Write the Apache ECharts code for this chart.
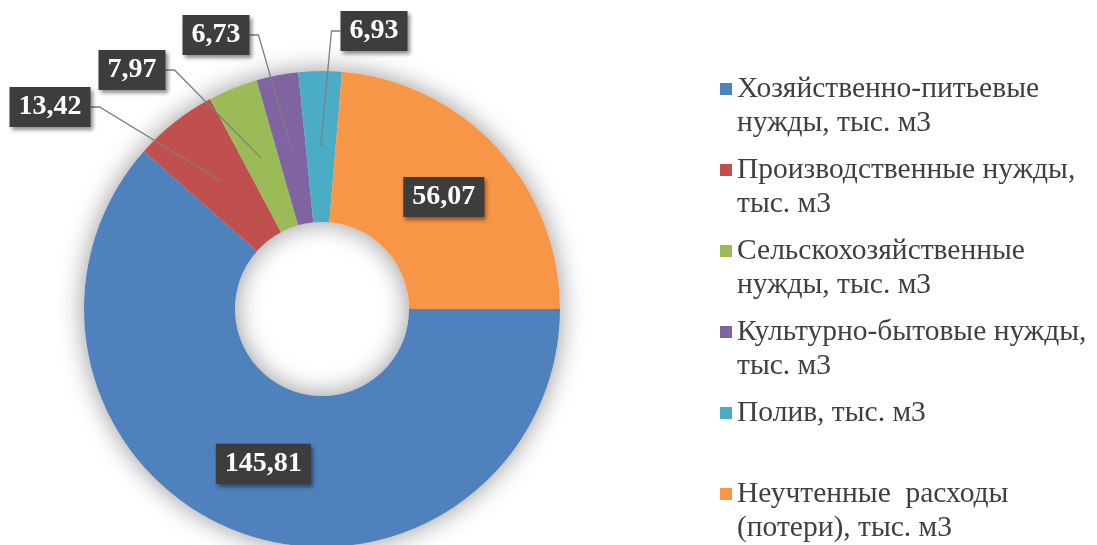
<!DOCTYPE html>
<html><head><meta charset="utf-8">
<script src="https://cdn.jsdelivr.net/npm/echarts@6/dist/echarts.min.js"></script>
<style>html,body{margin:0;padding:0;background:#fff;}#c{width:1097px;height:545px;}</style>
</head><body><div id="c"></div>
<script>
const categories = [
  'Хозяйственно-питьевые нужды, тыс. м3',
  'Производственные нужды, тыс. м3',
  'Сельскохозяйственные нужды, тыс. м3',
  'Культурно-бытовые нужды, тыс. м3',
  'Полив, тыс. м3',
  'Неучтенные расходы (потери), тыс. м3'
];
const values = [145.81, 13.42, 7.97, 6.73, 6.93, 56.07];
const legendLines = [
  ['Хозяйственно-питьевые', 'нужды, тыс. м3'],
  ['Производственные нужды,', 'тыс. м3'],
  ['Сельскохозяйственные', 'нужды, тыс. м3'],
  ['Культурно-бытовые нужды,', 'тыс. м3'],
  ['Полив, тыс. м3', ' '],
  ['Неучтенные  расходы', '(потери), тыс. м3']
];
const colors = ['#4F81BD', '#C0504D', '#9BBB59', '#8064A2', '#4BACC6', '#F79646'];
const insideLabels = [0, 5];
// label box centres for the callout labels, and which side the leader attaches
const calloutPos = {1: [50, 107], 2: [132, 70], 3: [216, 35], 4: [374, 31]};
const calloutSide = {1: 1, 2: 1, 3: 1, 4: -1};

const SERIF = '"Liberation Serif", "Times New Roman", serif';
const fmt = v => v.toFixed(2).replace('.', ',');
const boxStyle = {
  color: '#ffffff', fontFamily: SERIF, fontWeight: 'bold', fontSize: 28, lineHeight: 30,
  backgroundColor: '#3d3d3d', padding: [5, 9, 5, 9],
  shadowColor: 'rgba(0,0,0,0.45)', shadowBlur: 4, shadowOffsetX: 2, shadowOffsetY: 3,
  formatter: p => fmt(p.value)
};
const CENTER = [322, 309];

const chart = echarts.init(document.getElementById('c'), null, {renderer: 'canvas'});
chart.setOption({
  animation: false,
  backgroundColor: '#ffffff',
  legend: {
    orient: 'vertical', left: 720, top: 38, padding: 0, itemGap: -21,
    itemWidth: 12, itemHeight: 12, icon: 'rect', selectedMode: false,
    data: categories,
    formatter: name => '\n' + legendLines[categories.indexOf(name)].join('\n'),
    textStyle: {fontFamily: SERIF, fontSize: 29.5, lineHeight: 34, color: '#3f3f3f'}
  },
  series: [
    {
      type: 'pie', z: 3, silent: true, radius: [87, 238], center: CENTER,
      startAngle: 0, clockwise: true, avoidLabelOverlap: false,
      label: {show: false}, labelLine: {show: false},
      data: categories.map((n, i) => ({
        name: n, value: values[i], itemStyle: {color: colors[i]},
        label: insideLabels.includes(i) ? Object.assign({show: true, position: 'inside'}, boxStyle) : {show: false}
      }))
    },
    {
      type: 'pie', z: 1, silent: true, radius: [87, 238], center: CENTER,
      startAngle: 0, clockwise: true,
      label: {show: false}, labelLine: {show: false},
      itemStyle: {color: '#ffffff', shadowBlur: 26, shadowColor: 'rgba(0,0,0,0.42)'},
      data: categories.map((n, i) => ({name: n, value: values[i]}))
    },
    {
      type: 'pie', z: 4, silent: true, radius: [0, 163], center: CENTER,
      startAngle: 0, clockwise: true, avoidLabelOverlap: false,
      itemStyle: {color: 'rgba(0,0,0,0)'},
      labelLine: {show: true, length: 10, length2: 10, lineStyle: {color: '#7f7f7f', width: 1.3}},
      data: categories.map((n, i) => ({
        name: n, value: values[i],
        label: calloutPos[i] ? Object.assign({show: true, position: 'outside'}, boxStyle) : {show: false},
        labelLine: {show: !!calloutPos[i]}
      })),
      labelLayout: function (params) {
        const p = calloutPos[params.dataIndex];
        if (!p) return {};
        const s = calloutSide[params.dataIndex];
        const w = params.labelRect.width;
        const edgeX = p[0] + s * w / 2;
        const start = params.labelLinePoints ? params.labelLinePoints[0] : [edgeX, p[1]];
        return {
          x: p[0], y: p[1], align: 'center', verticalAlign: 'middle',
          labelLinePoints: [start, [edgeX + s * 9, p[1]], [edgeX, p[1]]]
        };
      }
    }
  ]
});
</script></body></html>
